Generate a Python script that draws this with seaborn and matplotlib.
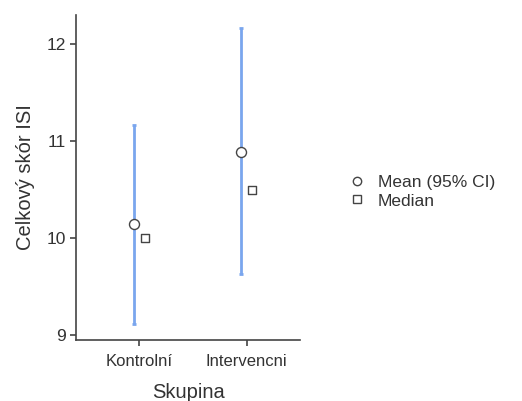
import matplotlib
matplotlib.use("Agg")
import matplotlib.pyplot as plt
import seaborn as sns
import numpy as np
import pandas as pd
from matplotlib.lines import Line2D

groups = ["Kontrolní", "Intervencni"]
means = [10.15, 10.89]
ci_low = [9.12, 9.63]
ci_high = [11.17, 12.16]
medians = [10.0, 10.5]

sns.set_style("ticks")
plt.rcParams['font.family'] = ['Liberation Sans', 'DejaVu Sans']
txt = "#333333"
blue = "#7aa6ee"

fig = plt.figure(figsize=(5.22, 4.01), dpi=100)
ax = fig.add_axes([0.146, 0.152, 0.429, 0.811])

df = pd.DataFrame({"Skupina": groups, "mean": means, "lo": ci_low, "hi": ci_high, "median": medians})
pos = np.arange(len(groups))
off = 0.05
err = np.vstack([df["mean"] - df["lo"], df["hi"] - df["mean"]])
ax.errorbar(pos - off, df["mean"], yerr=err, fmt="none", ecolor=blue, elinewidth=2,
            capsize=1.5, capthick=2, zorder=2)
sns.scatterplot(x=pos - off, y=df["mean"], ax=ax, marker="o", s=52, facecolor="white",
                edgecolor="#444444", linewidth=1, zorder=3, legend=False)
sns.scatterplot(x=pos + off, y=df["median"], ax=ax, marker="s", s=38, facecolor="white",
                edgecolor="#444444", linewidth=1, zorder=3, legend=False)

ax.set_xlim(-0.59, 1.5)
ax.set_ylim(8.95, 12.3)
ax.set_xticks(pos)
ax.set_xticklabels(groups, fontsize=12, color=txt)
ax.set_yticks([9, 10, 11, 12])
ax.set_yticklabels(["9", "10", "11", "12"], fontsize=12.5, color=txt)
ax.set_xlabel("Skupina", fontsize=14.5, color=txt, labelpad=10)
ax.set_ylabel("Celkový skór ISI", fontsize=14.5, color=txt, labelpad=8)
for s in ["top", "right"]:
    ax.spines[s].set_visible(False)
for s in ["left", "bottom"]:
    ax.spines[s].set_color("#444444")
    ax.spines[s].set_linewidth(1.2)
ax.tick_params(colors="#444444", width=1.2, length=4, labelcolor=txt)
ax.tick_params(axis="x", pad=6)

handles = [
    Line2D([], [], marker="o", linestyle="none", markerfacecolor="white", markeredgecolor="#444444", markersize=6),
    Line2D([], [], marker="s", linestyle="none", markerfacecolor="white", markeredgecolor="#444444", markersize=5.5),
]
leg = fig.legend(handles, ["Mean (95% CI)", "Median"], loc="center left",
                 bbox_to_anchor=(0.637, 0.522), frameon=False, fontsize=12.5,
                 handletextpad=0.7, labelspacing=0.2, handlelength=1.0)
for t in leg.get_texts():
    t.set_color(txt)

fig.savefig("out.png", dpi=100)
